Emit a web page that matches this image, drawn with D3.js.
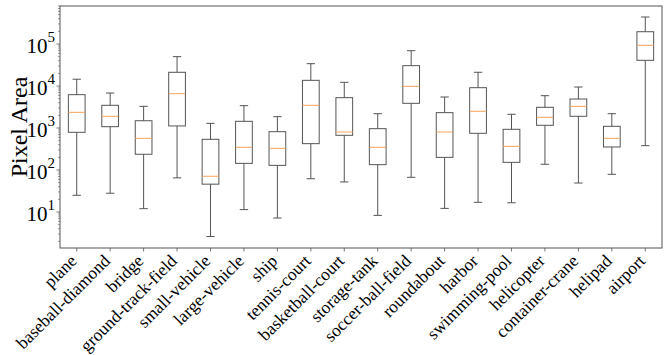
<!DOCTYPE html>
<html>
<head>
<meta charset="utf-8">
<script src="https://cdn.jsdelivr.net/npm/d3@7"></script>
<style>
  html, body { margin: 0; padding: 0; background: #fff; }
  svg { display: block; }
  text { font-family: "Liberation Serif", "Times New Roman", serif; fill: #000; }
</style>
</head>
<body>
<svg id="chart" width="672" height="355"></svg>
<script>
const categories = ["plane","baseball-diamond","bridge","ground-track-field","small-vehicle","large-vehicle","ship","tennis-court","basketball-court","storage-tank","soccer-ball-field","roundabout","harbor","swimming-pool","helicopter","container-crane","helipad","airport"];
const whiskerLow  = [25, 28, 12, 65, 2.6, 11.4, 7.2, 62, 52, 8.3, 67, 12.2, 17, 16.6, 137, 49, 79, 380];
const q1          = [790, 1075, 237, 1120, 46, 144, 129, 424, 670, 134, 3870, 200, 748, 152, 1160, 1900, 353, 40900];
const median      = [2360, 1900, 568, 6560, 71, 347, 328, 3470, 803, 347, 9820, 803, 2500, 366, 1800, 3280, 568, 93100];
const q3          = [6220, 3470, 1490, 21200, 538, 1443, 817, 13650, 5270, 964, 30500, 2320, 9120, 931, 3110, 4900, 1097, 196000];
const whiskerHigh = [14500, 6800, 3280, 50000, 1290, 3400, 1860, 34000, 12250, 2190, 69300, 5470, 21200, 2120, 5880, 9460, 2190, 439000];
const yMajorTicks = [1, 2, 3, 4, 5]; // exponents
const yLabel = "Pixel Area";

const svg = d3.select("#chart");
const L = 60, R = 662, T = 6, B = 248;
const lineColor = "#555";
const medColor = "#f7a25a";

const x = d3.scalePoint().domain(categories).range([L, R]).padding(0.5);
const y = d3.scaleLog().domain([1.39, 8.03e5]).range([B, T]);
const step = x.step();
const boxW = step * 0.5;
const capW = step * 0.25;

const data = categories.map((c, i) => ({
  c, lo: whiskerLow[i], q1: q1[i], med: median[i], q3: q3[i], hi: whiskerHigh[i]
}));

// Y axis ticks: major and minor
const yAxis = svg.append("g").attr("class", "y-axis");
const minorVals = [];
for (let e = 0; e <= 5; e++) {
  for (let m = 2; m <= 9; m++) {
    const v = m * Math.pow(10, e);
    if (v >= y.domain()[0] && v <= y.domain()[1]) minorVals.push(v);
  }
}
yAxis.selectAll("line.minor").data(minorVals).join("line")
  .attr("class", "minor")
  .attr("x1", L - 2).attr("x2", L)
  .attr("y1", d => y(d)).attr("y2", d => y(d))
  .attr("stroke", lineColor).attr("stroke-width", 0.6);
yAxis.selectAll("line.major").data(yMajorTicks).join("line")
  .attr("class", "major")
  .attr("x1", L - 3.5).attr("x2", L)
  .attr("y1", d => y(Math.pow(10, d))).attr("y2", d => y(Math.pow(10, d)))
  .attr("stroke", lineColor).attr("stroke-width", 0.8);
const yt = yAxis.selectAll("text.tick").data(yMajorTicks).join("text")
  .attr("class", "tick")
  .attr("x", L - 5)
  .attr("y", d => y(Math.pow(10, d)) + 9)
  .attr("text-anchor", "end")
  .style("font-size", "21px");
yt.append("tspan").text("10");
yt.append("tspan").attr("dy", -11).style("font-size", "15px").text(d => d);

// Y label
svg.append("text")
  .attr("transform", `translate(${27},${(T + B) / 2}) rotate(-90)`)
  .attr("text-anchor", "middle")
  .style("font-size", "24px")
  .text(yLabel);

// X ticks and labels
const xAxis = svg.append("g").attr("class", "x-axis");
xAxis.selectAll("line").data(categories).join("line")
  .attr("x1", d => x(d)).attr("x2", d => x(d))
  .attr("y1", B).attr("y2", B + 3.5)
  .attr("stroke", lineColor).attr("stroke-width", 0.8);
xAxis.selectAll("text").data(categories).join("text")
  .attr("transform", d => `translate(${x(d) + 1},${B + 14}) rotate(-45)`)
  .attr("text-anchor", "end")
  .style("font-size", "17.5px")
  .text(d => d);

// Boxes
const g = svg.append("g").attr("class", "boxes");
const bx = g.selectAll("g.box").data(data).join("g").attr("class", "box");
bx.append("line")
  .attr("x1", d => x(d.c)).attr("x2", d => x(d.c))
  .attr("y1", d => y(d.q1)).attr("y2", d => y(d.lo))
  .attr("stroke", lineColor).attr("stroke-width", 1);
bx.append("line")
  .attr("x1", d => x(d.c)).attr("x2", d => x(d.c))
  .attr("y1", d => y(d.q3)).attr("y2", d => y(d.hi))
  .attr("stroke", lineColor).attr("stroke-width", 1);
bx.append("line")
  .attr("x1", d => x(d.c) - capW / 2).attr("x2", d => x(d.c) + capW / 2)
  .attr("y1", d => y(d.lo)).attr("y2", d => y(d.lo))
  .attr("stroke", lineColor).attr("stroke-width", 1);
bx.append("line")
  .attr("x1", d => x(d.c) - capW / 2).attr("x2", d => x(d.c) + capW / 2)
  .attr("y1", d => y(d.hi)).attr("y2", d => y(d.hi))
  .attr("stroke", lineColor).attr("stroke-width", 1);
bx.append("rect")
  .attr("x", d => x(d.c) - boxW / 2)
  .attr("width", boxW)
  .attr("y", d => y(d.q3))
  .attr("height", d => y(d.q1) - y(d.q3))
  .attr("fill", "none")
  .attr("stroke", lineColor).attr("stroke-width", 1);
bx.append("line")
  .attr("x1", d => x(d.c) - boxW / 2).attr("x2", d => x(d.c) + boxW / 2)
  .attr("y1", d => y(d.med)).attr("y2", d => y(d.med))
  .attr("stroke", medColor).attr("stroke-width", 1);

// Frame
svg.append("rect")
  .attr("x", L).attr("y", T)
  .attr("width", R - L).attr("height", B - T)
  .attr("fill", "none")
  .attr("stroke", lineColor).attr("stroke-width", 1);
</script>
</body>
</html>
